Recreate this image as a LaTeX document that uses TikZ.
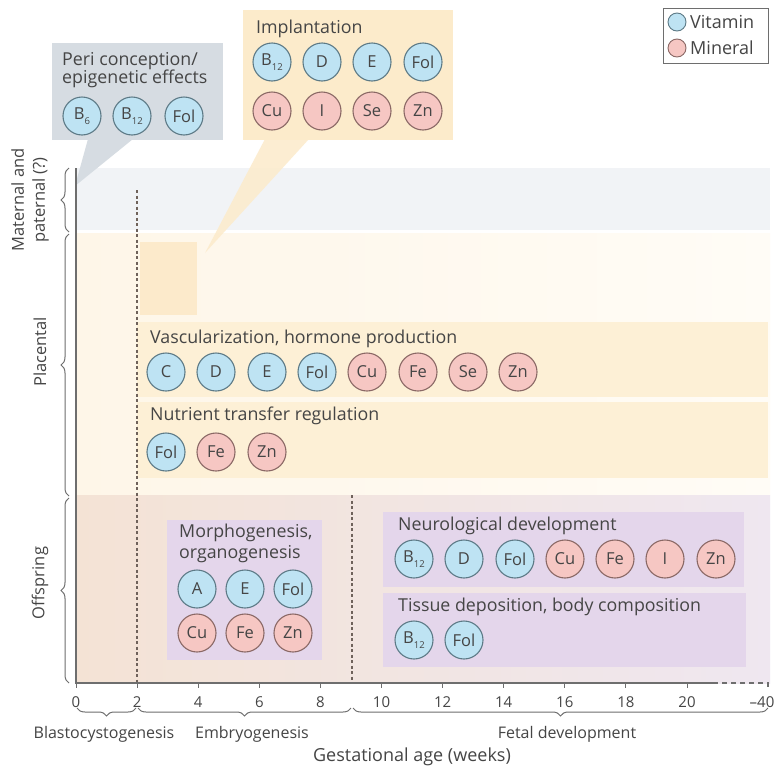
\documentclass[tikz,border=0pt]{standalone}
\usepackage{fontspec}
\setmainfont{Open Sans}
\usetikzlibrary{decorations.pathreplacing}
\definecolor{txt}{HTML}{454545}
\definecolor{grayband}{HTML}{F1F3F6}
\definecolor{calgray}{HTML}{D6DCE2}
\definecolor{calorange}{HTML}{FCEBCB}
\definecolor{orband}{HTML}{FDF0D6}
\definecolor{orbox}{HTML}{FCEACB}
\definecolor{creamA}{HTML}{FEF6E8}
\definecolor{creamB}{HTML}{FFFCF6}
\definecolor{peach}{HTML}{F4E3D5}
\definecolor{lavbg}{HTML}{EFE7F0}
\definecolor{lavbox}{HTML}{E4D6EB}
\definecolor{vitfill}{HTML}{BEE3F3}
\definecolor{vitdraw}{HTML}{5D7A86}
\definecolor{minfill}{HTML}{F6C7C3}
\definecolor{mindraw}{HTML}{8A6865}
\definecolor{axisc}{HTML}{6E6E6E}
\definecolor{dashc}{HTML}{6F625B}
\newcommand{\Bsub}[1]{B\raisebox{-0.5ex}{\fontsize{9.5}{9.5}\selectfont #1}}
\begin{document}
\begin{tikzpicture}[x=1pt,y=-1pt,
  every node/.style={text=txt, inner sep=0pt},
  vit/.style={circle, fill=vitfill, draw=vitdraw, line width=1.1pt, minimum size=38pt, font=\fontsize{16.5}{16.5}\selectfont},
  mnl/.style={circle, fill=minfill, draw=mindraw, line width=1.1pt, minimum size=38pt, font=\fontsize{16.5}{16.5}\selectfont},
  ttl/.style={anchor=base west, font=\fontsize{17.8}{20}\selectfont},
  axlab/.style={font=\fontsize{16}{18}\selectfont},
  numlab/.style={font=\fontsize{15}{16}\selectfont},
  sidelab/.style={font=\fontsize{16.5}{21}\selectfont, rotate=90, align=center},
  brc/.style={draw=axisc, line width=1pt, decorate, decoration={brace, amplitude=8pt}},
  axline/.style={draw=axisc, line width=1.3pt},
  dline/.style={draw=dashc, line width=1.1pt, dash pattern=on 3pt off 2.5pt}
]
\useasboundingbox (0,0) rectangle (782,782);
\fill[white] (0,0) rectangle (782,782);

% ---- background bands
\fill[grayband] (76,168) rectangle (770,230);
\shade[left color=creamA, right color=creamB] (76,233) rectangle (770,495);
\fill[orbox] (140,242) rectangle (197,315);
\fill[orband] (137,322) rectangle (768,397);
\fill[orband] (137,402) rectangle (768,478);
\shade[left color=peach, right color=lavbg] (76,495) rectangle (770,683);
\fill[lavbox] (167,520) rectangle (322,660);
\fill[lavbox] (383,512) rectangle (744,587);
\fill[lavbox] (383,593) rectangle (746,667);

% ---- dashed lines
\coordinate (d2t) at (137,190); \coordinate (d2b) at (137,683);
\coordinate (d9t) at (352,495); \coordinate (d9b) at (352,683);
\draw[dline] (d2t) -- (d2b);
\draw[dline] (d9t) -- (d9b);

% ---- callouts
\fill[calgray] (88,139) -- (133,139) -- (75,186) -- cycle;
\fill[calgray] (52,43) rectangle (223,140);
\node[ttl] (peri1) at (62,65) {Peri conception/};
\node[ttl] (peri2) at (62,83) {epigenetic effects};
\node[vit] (pB6) at (82,116) {\Bsub{6}};
\node[vit] (pB12) at (132,116) {\Bsub{12}};
\node[vit] (pFol) at (184,116) {Fol};

\fill[calorange, opacity=0.85] (265,139) -- (309,139) -- (205,253) -- cycle;
\fill[calorange] (243,10) rectangle (453,140);
\node[ttl] (impl) at (256,33) {Implantation};
\node[vit] (iB12) at (272,62) {\Bsub{12}};
\node[vit] (iD) at (322,62) {D};
\node[vit] (iE) at (372,62) {E};
\node[vit] (iFol) at (423,62) {Fol};
\node[mnl] (iCu) at (272,111) {Cu};
\node[mnl] (iI) at (322,111) {I};
\node[mnl] (iSe) at (372,111) {Se};
\node[mnl] (iZn) at (423,111) {Zn};

% ---- legend
\draw[draw=axisc, line width=0.9pt, fill=white] (663,8) rectangle (768,63);
\node[circle, fill=vitfill, draw=vitdraw, line width=0.9pt, minimum size=18pt] (lv) at (677,22) {};
\node[circle, fill=minfill, draw=mindraw, line width=0.9pt, minimum size=18pt] (lm) at (677,48) {};
\node[anchor=west, font=\fontsize{18}{18}\selectfont] (lvt) at (690,22) {Vitamin};
\node[anchor=west, font=\fontsize{18}{18}\selectfont] (lmt) at (690,48) {Mineral};

% ---- placental rows
\node[ttl] (vasc) at (150,343) {Vascularization, hormone production};
\node[vit] (vC) at (166,372) {C};
\node[vit] (vD) at (216,372) {D};
\node[vit] (vE) at (267,372) {E};
\node[vit] (vFol) at (317,372) {Fol};
\node[mnl] (vCu) at (367,372) {Cu};
\node[mnl] (vFe) at (418,372) {Fe};
\node[mnl] (vSe) at (468,372) {Se};
\node[mnl] (vZn) at (518,372) {Zn};

\node[ttl] (nutr) at (150,420) {Nutrient transfer regulation};
\node[vit] (nFol) at (166,452) {Fol};
\node[mnl] (nFe) at (216,452) {Fe};
\node[mnl] (nZn) at (267,452) {Zn};

% ---- offspring boxes
\node[ttl] (morph1) at (179,537) {Morphogenesis,};
\node[ttl] (morph2) at (179,558) {organogenesis};
\node[vit] (mA) at (197,589) {A};
\node[vit] (mE) at (245,589) {E};
\node[vit] (mFol) at (293,589) {Fol};
\node[mnl] (mCu) at (197,633) {Cu};
\node[mnl] (mFe) at (245,633) {Fe};
\node[mnl] (mZn) at (293,633) {Zn};

\node[ttl] (neuro) at (398,530) {Neurological development};
\node[vit] (nB12) at (414,559) {\Bsub{12}};
\node[vit] (nD) at (464,559) {D};
\node[vit] (nFol2) at (515,559) {Fol};
\node[mnl] (nCu) at (565,559) {Cu};
\node[mnl] (nFe2) at (615,559) {Fe};
\node[mnl] (nI) at (665,559) {I};
\node[mnl] (nZn2) at (716,559) {Zn};

\node[ttl] (tiss) at (398,611) {Tissue deposition, body composition};
\node[vit] (tB12) at (414,640) {\Bsub{12}};
\node[vit] (tFol) at (464,640) {Fol};

% ---- axes
\coordinate (ytop) at (76,168);
\coordinate (orig) at (76,683);
\coordinate (xend) at (713,683);
\coordinate (xdash) at (768,683);
\draw[axline] (ytop) -- (orig) -- (xend);
\draw[axline, dash pattern=on 5pt off 4pt] (xend) -- (xdash) -- ++(0,5);
\foreach \w/\lab in {0/0,2/2,4/4,6/6,8/8,10/10,12/12,14/14,16/16,18/18,20/20}{
  \draw[axline, line width=1pt] ({76+30.55*\w},683) -- ++(0,5);
  \node[numlab] (n\w) at ({76+30.55*\w},702) {\lab};
}
\node[numlab] (n40) at (762,702) {–40};

% ---- side braces and labels
\draw[brc] (69,232) -- (69,168);
\draw[brc] (69,496) -- (69,234);
\draw[brc] (69,683) -- (69,498);
\node[sidelab] (smat) at (30,200) {Maternal and\\paternal (?)};
\node[sidelab] (splac) at (40,352) {Placental};
\node[sidelab] (soff) at (40,583) {Offspring};

% ---- bottom braces and labels
\draw[brc] (136,708) -- (77,708);
\draw[brc] (351,708) -- (138,708);
\draw[brc] (768,708) -- (353,708);
\node[axlab] (bl) at (104,734) {Blastocystogenesis};
\node[axlab] (em) at (252,734) {Embryogenesis};
\node[axlab] (fe) at (567,734) {Fetal development};
\node[font=\fontsize{18}{18}\selectfont] (ga) at (412,757) {Gestational age (weeks)};
\end{tikzpicture}
\end{document}
